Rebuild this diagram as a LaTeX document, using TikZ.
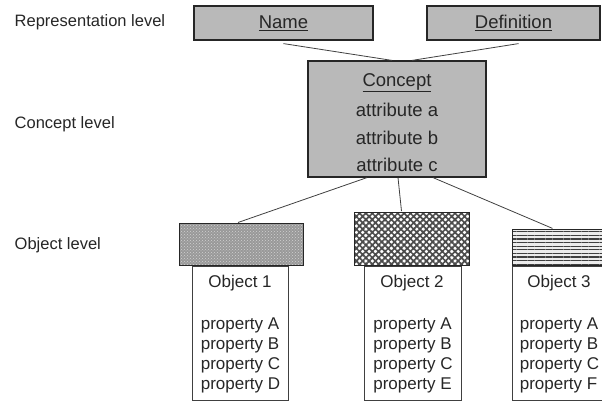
\documentclass[tikz,border=0pt]{standalone}
\usepackage{fontspec}
\setmainfont{Liberation Sans}
\usepackage{tikz}
\usetikzlibrary{patterns}
\usetikzlibrary{patterns.meta}

\begin{document}
\begin{tikzpicture}[x=1pt, y=-1pt, thick,
	level/.style={anchor=west, text=black!85, font=\fontsize{16.5}{20}\selectfont},
	greybox/.style={fill=gray!55, draw=black!85, line width=1.2pt, text=black!85, align=center, font=\fontsize{18.5}{27.5}\selectfont},
	headbox/.style={draw=black!85, line width=1pt, inner sep=0pt},
	bodybox/.style={draw=black!75, line width=0.8pt, minimum height=134pt, inner sep=0pt},
	objtext/.style={text=black!85, align=left, font=\fontsize{17}{20}\selectfont},
	link/.style={draw=black!75, line width=0.8pt}]
	\useasboundingbox (0,0) rectangle (602,401);

	% levels
	\node[level] (replevel) at (11,22) {Representation level};
	\node[level] (conlevel) at (11,124) {Concept level};
	\node[level] (objlevel) at (11,245) {Object level};

	% representation and concept
	\node[greybox, minimum width=179pt, minimum height=34pt] (name) at (283.5,23) {\underline{Name}};
	\node[greybox, minimum width=173pt, minimum height=34pt] (def) at (513.5,23) {\underline{Definition}};
	\node[greybox, minimum width=178pt, minimum height=116pt] (concept) at (397,119)
		{\rule{0pt}{20pt}\underline{Concept}\\[3pt]attribute a\\attribute b\\attribute c};

	% objects
	\node[headbox, minimum width=124pt, minimum height=42pt, preaction={fill=gray!80},
		pattern=crosshatch dots, pattern color=gray!35] (head1) at (241,244) {};
	\node[headbox, minimum width=115pt, minimum height=53pt, preaction={fill=white},
		pattern={Hatch[distance=4.5pt, angle=45, line width=1.7pt]}, pattern color=black!70] (head2) at (411.5,238.5) {};
	\node[headbox, minimum width=90pt, minimum height=36pt, preaction={fill=gray!15},
		pattern={Lines[distance=3.6pt, angle=0, line width=1.2pt]}, pattern color=black!75] (head3) at (557.5,247) {};

	\node[bodybox, minimum width=96pt] (body1) at (240,333) {};
	\node[bodybox, minimum width=97pt] (body2) at (412.5,333) {};
	\node[bodybox, minimum width=90pt] (body3) at (557,333) {};

	\node[objtext] (title1) at (240,283) {Object 1};
	\node[objtext] (title2) at (412,283) {Object 2};
	\node[objtext] (title3) at (559,283) {Object 3};
	\node[objtext] (props1) at (240.5,355) {property A\\property B\\property C\\property D};
	\node[objtext] (props2) at (413,355) {property A\\property B\\property C\\property E};
	\node[objtext] (props3) at (559.5,355) {property A\\property B\\property C\\property F};

	\draw[link] ([yshift=-3pt]name.south) -- ([xshift=-5pt]concept.north);
	\draw[link] ([xshift=5pt, yshift=-3pt]def.south) -- ([xshift=15pt]concept.north);
	\draw[link] ([xshift=-30pt]concept.south) -- ([xshift=-3pt]head1.north);
	\draw[link] ([xshift=1pt]concept.south) -- ([xshift=-10pt]head2.north);
	\draw[link] ([xshift=36pt]concept.south) -- ([xshift=-5pt]head3.north);
\end{tikzpicture}
\end{document}
